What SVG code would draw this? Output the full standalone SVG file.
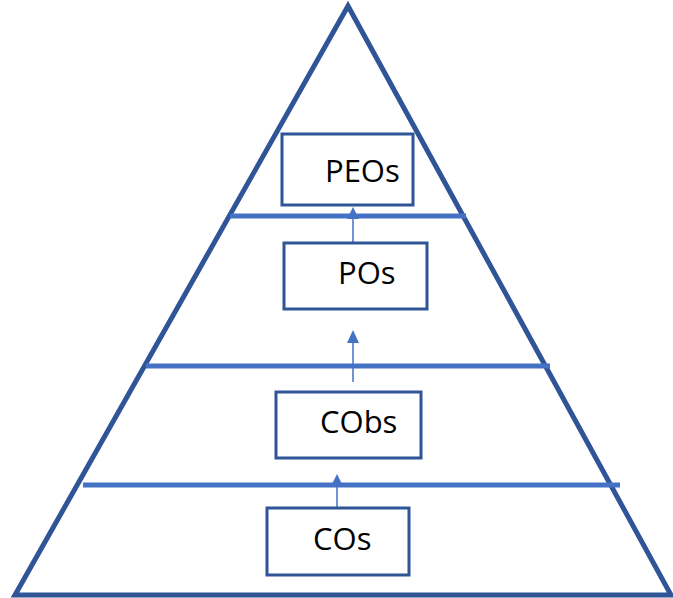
<svg xmlns="http://www.w3.org/2000/svg" width="673" height="598" viewBox="0 0 673 598">
<style>
.tri{fill:none;stroke:#2F5597;stroke-width:5;stroke-linejoin:miter}
.band{stroke:#4472C4;stroke-width:5}
.box{fill:#fff;stroke:#2F5597;stroke-width:3}
.lbl{font-family:"Open Sans","Liberation Sans",sans-serif;font-size:31px;fill:#000}
.arr{stroke:#4472C4;stroke-width:1.5;fill:none}
</style>
<defs>
<marker id="ah" viewBox="0 0 12 12" refX="6" refY="0" markerWidth="12" markerHeight="12" markerUnits="userSpaceOnUse" orient="auto-start-reverse">
<path d="M0,12 L6,0 L12,12 Z" fill="#4472C4"/>
</marker>
</defs>
<rect width="673" height="598" fill="#fff"/>
<g id="pyramid">
<polygon class="tri" points="348,6 15,595 671,595"/>
<line class="band" x1="230" y1="216" x2="466" y2="216"/>
<line class="band" x1="146" y1="366" x2="550" y2="366"/>
<line class="band" x1="83" y1="485" x2="620" y2="485"/>
</g>
<g id="connectors">
<line class="arr" x1="353" y1="251" x2="353" y2="219"/>
<path d="M347,219 L353,207 L359,219 Z" fill="#4472C4"/>
<line class="arr" x1="353" y1="382" x2="353" y2="342"/>
<path d="M347,343 L353,330 L359,343 Z" fill="#4472C4"/>
<line class="arr" x1="337" y1="508" x2="337" y2="484"/>
<path d="M332,484 L337,474 L342,484 Z" fill="#4472C4"/>
</g>
<g id="node-peos">
<rect class="box" x="282" y="134" width="131" height="71"/>
<text class="lbl" x="325" y="182">PEOs</text>
</g>
<g id="node-pos">
<rect class="box" x="284" y="243" width="143" height="66"/>
<text class="lbl" x="338" y="284">POs</text>
</g>
<g id="node-cobs">
<rect class="box" x="276" y="392" width="145" height="66"/>
<text class="lbl" x="320" y="433">CObs</text>
</g>
<g id="node-cos">
<rect class="box" x="267" y="508" width="142" height="67"/>
<text class="lbl" x="313" y="550">COs</text>
</g>
</svg>
